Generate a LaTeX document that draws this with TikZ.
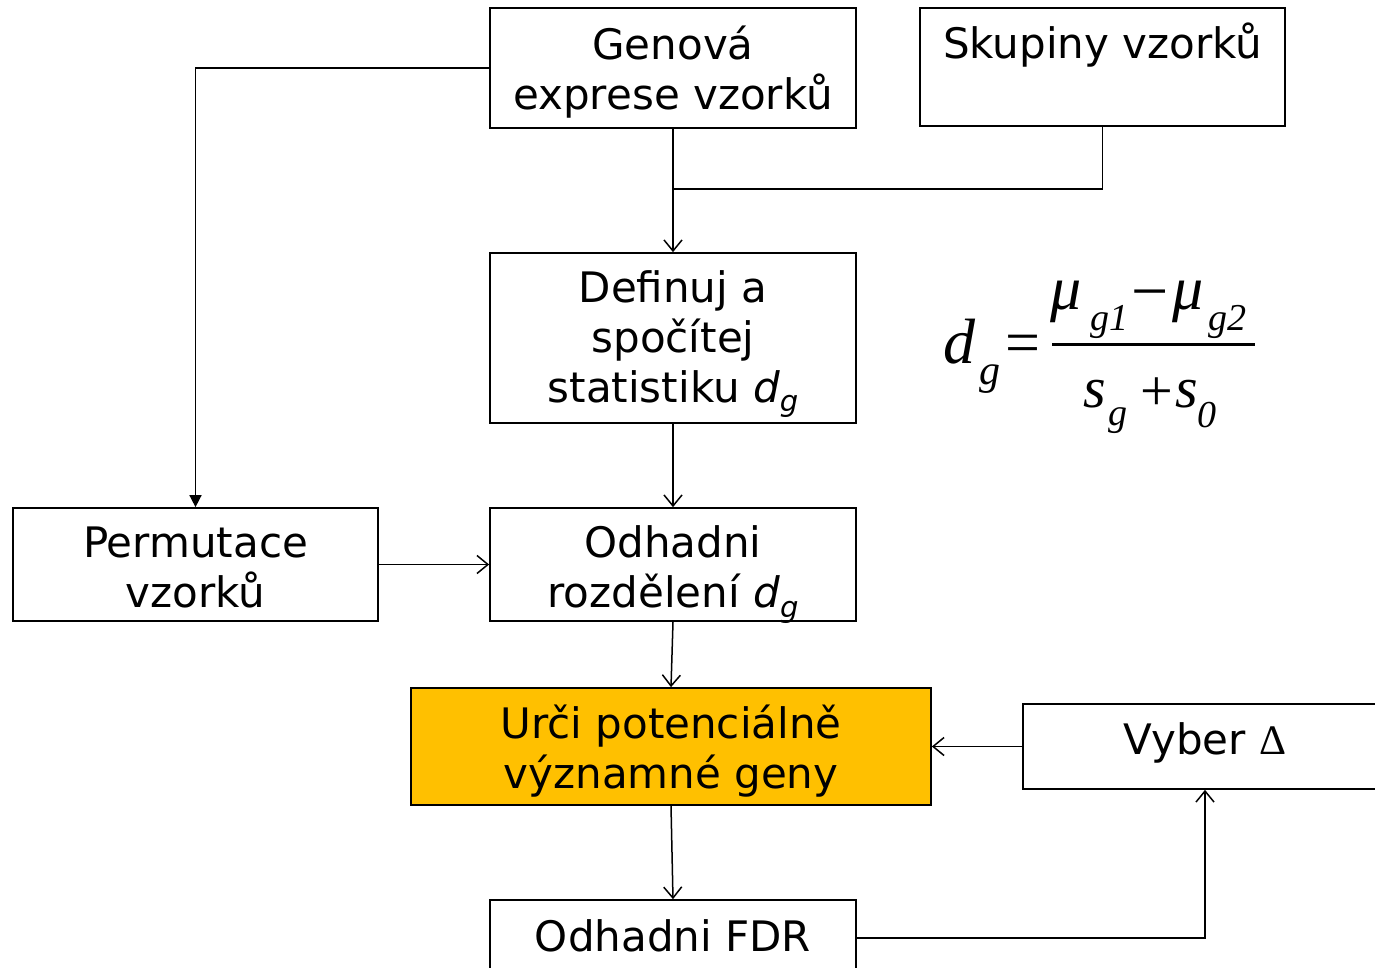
\documentclass[tikz,border=0pt]{standalone}
\usepackage{fontspec}
\setmainfont{DejaVu Sans}
\newfontfamily\tms{Liberation Serif}
\usetikzlibrary{arrows.meta}
\definecolor{gold}{HTML}{FFC000}
\newcommand{\dgsym}{\textit{d}\raisebox{-0.22em}{\fontsize{29}{29}\selectfont\itshape g}}
\tikzset{
  box/.style={draw=black, line width=1.7pt, inner sep=0pt},
  txt/.style={inner sep=0pt, align=center, font=\fontsize{42}{50}\selectfont},
  conn/.style={line width=1.5pt},
  arr/.style={conn, -{Straight Barb[length=11pt,width=18pt,line width=1.5pt]}},
  tri/.style={conn, -{Triangle[length=12pt,width=12pt]}},
  fit/.style={inner sep=0pt, anchor=base west, font={\tms\itshape\fontsize{62}{62}\selectfont}},
  fsub/.style={inner sep=0pt, anchor=base west, font={\tms\itshape\fontsize{38}{38}\selectfont}},
  fop/.style={inner sep=0pt, anchor=base west, font={\tms\fontsize{62}{62}\selectfont}}
}
\begin{document}
\begin{tikzpicture}[x=1pt,y=-1pt]
\useasboundingbox (0,0) rectangle (1375,968);
\fill[white] (0,0) rectangle (1375,968);
\clip (0,0) rectangle (1375,968);
% boxes
\node[box, minimum width=366pt, minimum height=120pt] (gen) at (673,68) {};
\node[box, minimum width=365pt, minimum height=118pt] (skup) at (1102.5,67) {};
\node[box, minimum width=366pt, minimum height=170pt] (def) at (673,338) {};
\node[box, minimum width=365pt, minimum height=113pt] (perm) at (195.5,564.5) {};
\node[box, minimum width=366pt, minimum height=113pt] (odh) at (673,564.5) {};
\node[box, fill=gold, minimum width=520pt, minimum height=117pt] (urci) at (671,746.5) {};
\node[box, minimum width=364pt, minimum height=85pt] (vyber) at (1205,746.5) {};
\node[box, minimum width=366pt, minimum height=76pt] (fdr) at (673,938) {};
% texts
\node[txt] (gent) at (673,72) {Genová\\exprese vzorků};
\node[txt] (skupt) at (1102.5,66) {Skupiny vzorků\\\mbox{}};
\node[txt] (deft) at (673,344) {Definuj a\\spočítej\\statistiku \dgsym};
\node[txt] (permt) at (195.5,567.5) {Permutace\\vzorků};
\node[txt] (odht) at (673,574.5) {Odhadni\\rozdělení \dgsym};
\node[txt] (urcit) at (671,751.5) {Urči potenciálně\\významné geny};
\node[txt] (vybert) at (1205,742.5) {Vyber {\tms Δ}};
\node[txt] (fdrt) at (673,936) {Odhadni FDR};
% connectors
\coordinate (join) at (673,189);
\draw[tri] (gen.west) -| (perm.north);
\draw[arr] (gen.south) -- (def.north);
\draw[conn] (skup.south) |- (join);
\draw[arr] (def.south) -- (odh.north);
\draw[arr] (perm.east) -- (odh.west);
\draw[arr] (odh.south) -- (urci.north);
\draw[arr] (urci.south) -- (fdr.north);
\draw[arr] (vyber.west) -- (urci.east);
\draw[arr] (fdr.east) -| (vyber.south);
% formula
\node[fit, font={\tms\itshape\fontsize{64}{64}\selectfont}] (fd) at (943,363) {d};
\node[fsub, font={\tms\itshape\fontsize{42}{42}\selectfont}] (fdg) at (979,384) {g};
\node[fop] (feq) at (1005,363) {=};
\node[fit] (mu1) at (1050,309) {μ};
\node[fsub] (g1) at (1090,330) {g1};
\node[fop, font={\tms\fontsize{66}{66}\selectfont}] (fminus) at (1131,313) {−};
\node[fit] (mu2) at (1172,309) {μ};
\node[fsub] (g2) at (1208,330) {g2};
\draw[line width=3.5pt] (1052,344.5) -- (1255,344.5);
\node[fit, font={\tms\itshape\fontsize{58}{58}\selectfont}] (s1) at (1083,407) {s};
\node[fsub] (sg) at (1108,425) {g};
\node[fop, font={\tms\fontsize{58}{58}\selectfont}] (fplus) at (1140,410) {+};
\node[fit, font={\tms\itshape\fontsize{58}{58}\selectfont}] (s2) at (1175,407) {s};
\node[fsub] (s0) at (1197,427) {0};
\end{tikzpicture}
\end{document}
